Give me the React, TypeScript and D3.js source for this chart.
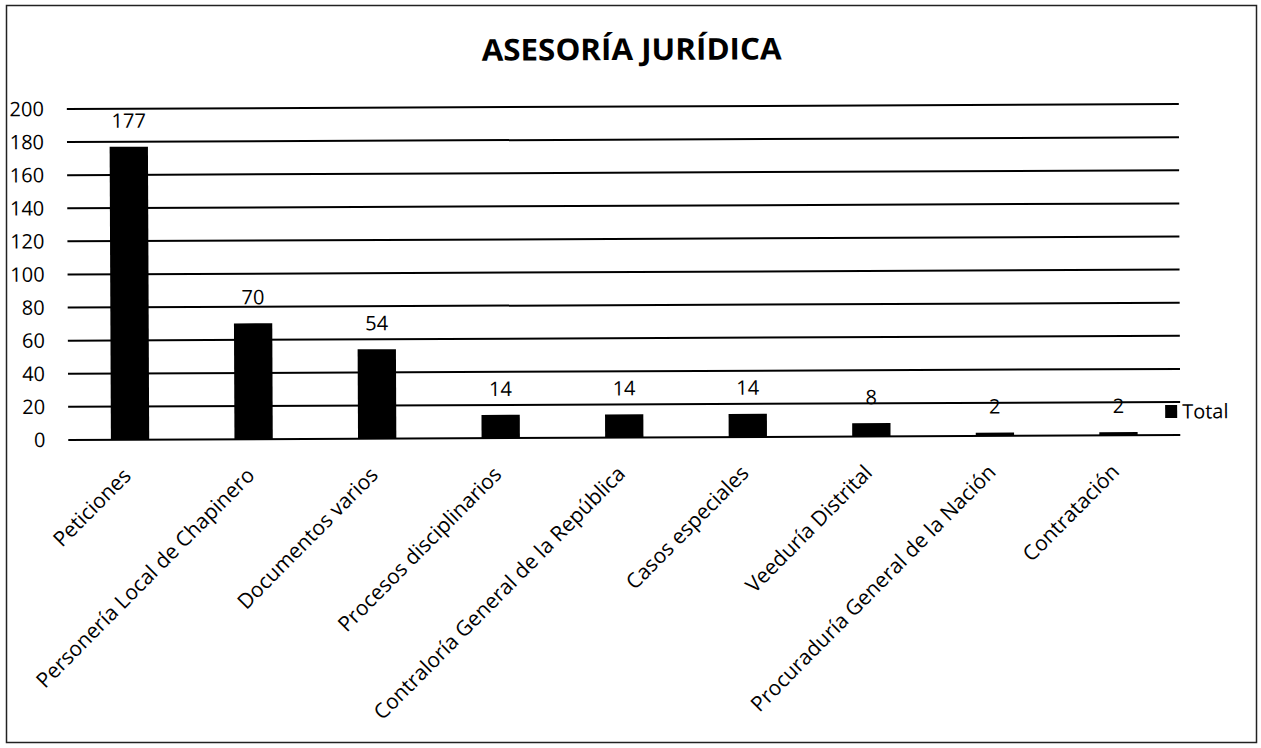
import React from 'react';
import * as d3 from 'd3';

const categories = [
  'Peticiones',
  'Personería Local de Chapinero',
  'Documentos varios',
  'Procesos disciplinarios',
  'Contraloría General de la República',
  'Casos especiales',
  'Veeduría Distrital',
  'Procuraduría General de la Nación',
  'Contratación',
];
const totals = [177, 70, 54, 14, 14, 14, 8, 2, 2];
const yTicks = [0, 20, 40, 60, 80, 100, 120, 140, 160, 180, 200];
const title = 'ASESORÍA JURÍDICA';
const seriesName = 'Total';

const W = 1261;
const H = 748;
const font = '"Open Sans", "Noto Sans", sans-serif';

const App: React.FC = () => {
  const x = d3.scaleBand<string>()
    .domain(categories)
    .range([68, 1180])
    .paddingInner(0.69)
    .paddingOuter(0.345);
  const y = d3.scaleLinear().domain([0, 200]).range([437.5, 106.5]);

  return (
    <svg width={W} height={H} style={{ position: 'absolute', left: 0, top: 0 }}>
      <rect x={0} y={0} width={W} height={H} fill="#fff" />
      <rect x={6.5} y={5.5} width={1250} height={737} fill="none" stroke="#222" strokeWidth={1.5} />
      <g transform="rotate(-0.25, 630, 374)" fontFamily={font}>
        <text x={633} y={60} textAnchor="middle" fontSize={30} fontWeight={700}
          textLength={300} lengthAdjust="spacingAndGlyphs">{title}</text>

        {/* grid */}
        {yTicks.map(t => (
          <line key={t} x1={68} x2={1180} y1={y(t)} y2={y(t)} stroke="#000" strokeWidth={2} />
        ))}

        {/* bars */}
        {categories.map((c, i) => (
          <rect key={c} x={x(c)} y={y(totals[i])} width={x.bandwidth()}
            height={y(0) - y(totals[i])} fill="#000" />
        ))}

        {/* value labels */}
        {categories.map((c, i) => (
          <text key={c} x={(x(c) ?? 0) + x.bandwidth() / 2} y={y(totals[i]) - 19}
            textAnchor="middle" fontSize={20}>{totals[i]}</text>
        ))}

        {/* y tick labels */}
        {yTicks.map(t => (
          <text key={t} x={45} y={y(t)} dy="0.35em" textAnchor="end" fontSize={20}>{t}</text>
        ))}

        {/* x labels */}
        {categories.map(c => (
          <text key={c} textAnchor="end" fontSize={21}
            transform={`translate(${(x(c) ?? 0) + x.bandwidth() / 2 + 2}, 475) rotate(-45)`}>{c}</text>
        ))}

        {/* legend */}
        <rect x={1165} y={y(20) + 3} width={12} height={13} fill="#000" />
        <text x={1182} y={y(20) + 9.5} dy="0.35em" fontSize={20}>{seriesName}</text>
      </g>
    </svg>
  );
};

export default App;
